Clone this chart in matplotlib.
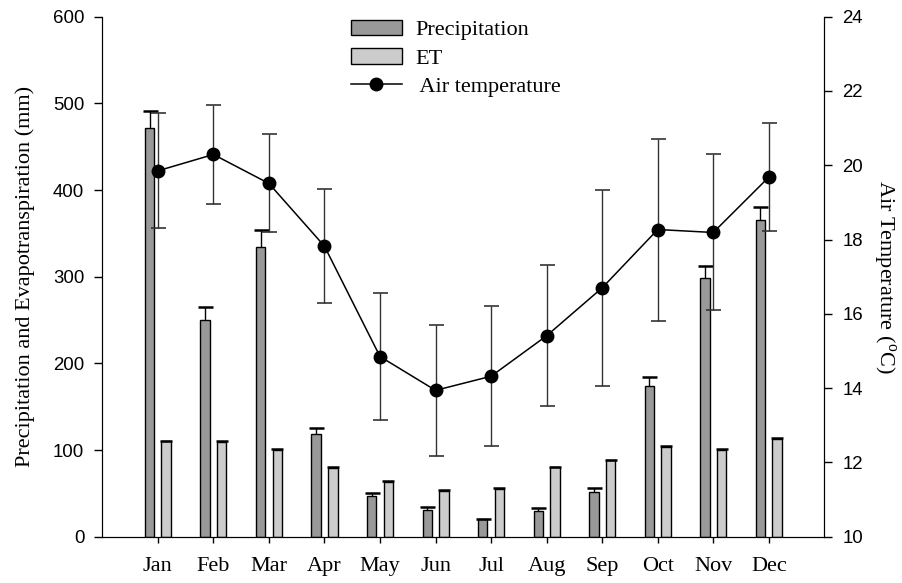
import numpy as np
import matplotlib
matplotlib.use("Agg")
import matplotlib.pyplot as plt
from matplotlib.patches import Patch
from matplotlib.lines import Line2D

months = ["Jan", "Feb", "Mar", "Apr", "May", "Jun", "Jul", "Aug", "Sep", "Oct", "Nov", "Dec"]

# monthly precipitation and evapotranspiration (mm) with standard errors
precip = [472, 250, 334, 118, 47, 31, 20, 30, 52, 174, 298, 365]
precip_err = [19, 15, 20, 8, 4, 3, 0.5, 3, 4, 10, 14, 15]
et = [110, 109, 100, 79, 63, 53, 55, 80, 88, 104, 100, 113]
et_err = [1, 1, 1, 1, 1, 1, 1, 1, 1, 1, 1, 1]

# mean air temperature (degC) with standard deviation
temp = [19.85, 20.29, 19.51, 17.82, 14.85, 13.94, 14.32, 15.41, 16.70, 18.27, 18.19, 19.68]
temp_err = [1.55, 1.32, 1.32, 1.53, 1.71, 1.77, 1.88, 1.90, 2.63, 2.45, 2.10, 1.46]

serif = "Liberation Serif"
sans = "Liberation Sans"
plt.rcParams["mathtext.fontset"] = "custom"
plt.rcParams["mathtext.rm"] = serif

fig = plt.figure(figsize=(9.03, 5.83), dpi=100)
ax = fig.add_axes([0.1133, 0.0794, 0.7996, 0.892])

x = np.arange(len(months))
w = 0.17
off = 0.15
zeros = np.zeros(len(months))


def upper_errorbar(xpos, vals, errs, capsize):
    # one-sided error bars: hide the cap that would sit on the bar top
    cont = ax.errorbar(xpos, vals, yerr=[zeros, errs], fmt="none", ecolor="black",
                       elinewidth=1.0, capsize=capsize, capthick=1.8)
    cont.lines[1][0].set_visible(False)


ax.bar(x - off, precip, w, color="#999999", edgecolor="black", linewidth=1.0)
ax.bar(x + off, et, w, color="#cccccc", edgecolor="black", linewidth=1.0)
upper_errorbar(x - off, precip, precip_err, 5.4)
upper_errorbar(x + off, et, et_err, 4.6)

ax.set_xlim(-1, 12)
ax.set_ylim(0, 600)
ax.set_yticks(np.arange(0, 601, 100))
ax.set_xticks(x)
ax.set_xticklabels(months, fontfamily=serif, fontsize=16)
for lab in ax.get_yticklabels():
    lab.set_fontfamily(sans)
    lab.set_fontsize(13.4)
ax.set_ylabel("Precipitation and Evapotranspiration (mm)", fontfamily=serif, fontsize=16)
ax.yaxis.set_label_coords(-0.093, 0.5)
ax.spines["top"].set_visible(False)
ax.tick_params(axis="y", direction="out", length=6, width=1, pad=7)
ax.tick_params(axis="x", direction="out", length=4.5, width=1, pad=10)

ax2 = ax.twinx()
ax2.errorbar(x, temp, yerr=temp_err, color="black", ecolor="#333333", elinewidth=1.0,
             capsize=5.4, capthick=1.2, marker="o", markersize=9, linewidth=1.1, zorder=5)
ax2.set_ylim(10, 24)
ax2.set_yticks(np.arange(10, 25, 2))
for lab in ax2.get_yticklabels():
    lab.set_fontfamily(sans)
    lab.set_fontsize(13.4)
ax2.set_ylabel(r"Air Temperature ($^{\rm o}$C)", fontfamily=serif, fontsize=16,
               rotation=270, labelpad=25)
ax2.spines["top"].set_visible(False)
ax2.tick_params(direction="out", length=6, width=1, pad=7)

handles = [
    Patch(facecolor="#999999", edgecolor="black", label="Precipitation"),
    Patch(facecolor="#cccccc", edgecolor="black", label="ET"),
    Line2D([], [], color="black", marker="o", markersize=9, linewidth=1.1, label=" Air temperature"),
]
ax2.legend(handles=handles, loc="upper left", bbox_to_anchor=(0.344, 0.994), frameon=False,
           prop={"family": serif, "size": 16}, handlelength=2.3, handleheight=0.7,
           labelspacing=0.35, handletextpad=0.6, borderpad=0, borderaxespad=0)

fig.savefig("out.png", dpi=100)
